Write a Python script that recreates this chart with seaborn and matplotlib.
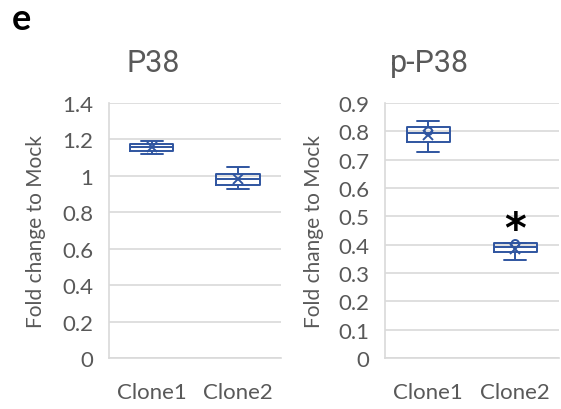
import numpy as np
import pandas as pd
import matplotlib
matplotlib.use("Agg")
import matplotlib.pyplot as plt
import seaborn as sns

sns.set_theme(style="white")
plt.rcParams['font.family'] = ['Lato', 'DejaVu Sans']

categories = ["Clone1", "Clone2"]
p38_clone1 = [1.12, 1.137, 1.16, 1.175, 1.19]
p38_clone2 = [0.928, 0.95, 0.98, 1.01, 1.05]
pp38_clone1 = [0.727, 0.762, 0.795, 0.815, 0.836]
pp38_clone2 = [0.347, 0.374, 0.39, 0.406, 0.406]
pp38_points = [0.80, 0.403]
p38_ticks = [0, 0.2, 0.4, 0.6, 0.8, 1, 1.2, 1.4]
pp38_ticks = [0, 0.1, 0.2, 0.3, 0.4, 0.5, 0.6, 0.7, 0.8, 0.9]
p38_ticklabels = ["0", "0.2", "0.4", "0.6", "0.8", "1", "1.2", "1.4"]
pp38_ticklabels = ["0", "0.1", "0.2", "0.3", "0.4", "0.5", "0.6", "0.7", "0.8", "0.9"]

BLUE = "#2F55A0"
GRID = "#D9D9D9"
TXT = "#595959"

fig = plt.figure(figsize=(5.61, 4.10), dpi=100)
ax1 = fig.add_axes([0.194, 0.1244, 0.307, 0.622])
ax2 = fig.add_axes([0.686, 0.1244, 0.310, 0.622])

def make_df(a, b):
    return pd.DataFrame({"clone": [categories[0]] * len(a) + [categories[1]] * len(b),
                         "value": list(a) + list(b)})

box_kw = dict(width=0.5, whis=np.inf, fill=False, linewidth=1.4, color=BLUE,
              showmeans=True,
              meanprops=dict(marker="x", markeredgecolor=BLUE, markersize=7, markeredgewidth=1.4),
              whiskerprops=dict(color=BLUE), capprops=dict(color=BLUE),
              medianprops=dict(color=BLUE), boxprops=dict(color=BLUE))

sns.boxplot(data=make_df(p38_clone1, p38_clone2), x="clone", y="value", ax=ax1, **box_kw)
sns.boxplot(data=make_df(pp38_clone1, pp38_clone2), x="clone", y="value", ax=ax2, **box_kw)
sns.scatterplot(x=categories, y=pp38_points, ax=ax2, marker="o", s=30,
                facecolor="none", edgecolor=BLUE, linewidth=1.4, zorder=5)

for ax, lim, ticks, labels, lx in [(ax1, 1.4, p38_ticks, p38_ticklabels, -0.424),
                                   (ax2, 0.9, pp38_ticks, pp38_ticklabels, -0.408)]:
    ax.set_ylim(0, lim)
    ax.set_xlim(-0.5, 1.5)
    ax.set_yticks(ticks)
    ax.set_yticklabels(labels)
    ax.grid(axis="y", color=GRID, linewidth=1.2)
    ax.set_axisbelow(True)
    for s in ["top", "right"]:
        ax.spines[s].set_visible(False)
    for s in ["left", "bottom"]:
        ax.spines[s].set_color(GRID)
        ax.spines[s].set_linewidth(1.2)
    ax.tick_params(axis="y", length=0, labelsize=16, colors=TXT, pad=11)
    ax.tick_params(axis="x", length=0, labelsize=16, colors=TXT, pad=17)
    ax.set_xlabel("")
    ax.set_ylabel("Fold change to Mock", fontsize=15, color=TXT)
    ax.yaxis.label.set_verticalalignment("center")
    ax.yaxis.set_label_coords(lx, 0.5)

ax2.text(1, 0.45, "*", ha="center", va="center", fontsize=30, fontweight="bold", color="black",
         family="DejaVu Sans")

fig.text(0.273, 0.8244, "P38", ha="center", va="baseline", fontsize=22, color=TXT, family="Roboto")
fig.text(0.765, 0.8244, "p-P38", ha="center", va="baseline", fontsize=22, color=TXT, family="Roboto")
fig.text(0.021, 0.927, "e", ha="left", va="baseline", fontsize=26, fontweight="bold", color="black")

fig.savefig("out.png", dpi=100)
